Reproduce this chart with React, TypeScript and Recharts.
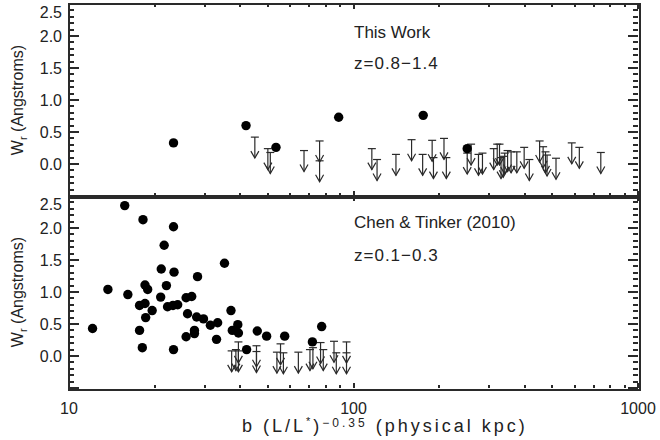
import { Scatter, ScatterChart, XAxis, YAxis } from 'recharts'

type Pt = { x: number; y: number }

// top panel: this work, z=0.8-1.4 (detections)
const workDetB = [23.3, 41.9, 53.4, 88.7, 175.8, 251]
const workDetW = [0.33, 0.6, 0.26, 0.73, 0.76, 0.24]

// top panel upper limits
const workLimB = [
  45, 50, 51, 67, 76, 76, 116, 121, 141, 160, 175, 189, 191, 208, 212, 251, 259, 275, 284, 311,
  320, 326, 330, 336, 340, 348, 358, 375, 398, 415, 451, 464, 473, 479, 515, 585, 622, 740,
]
const workLimW = [
  0.42, 0.24, 0.18, 0.21, 0.36, 0.05, 0.24, 0.07, 0.15, 0.38, 0.15, 0.37, 0.1, 0.4, 0.1, 0.17, 0.31,
  0.15, 0.17, 0.24, 0.31, 0.31, 0.1, 0.12, 0.17, 0.21, 0.19, 0.19, 0.26, 0.07, 0.36, 0.27, 0.19,
  0.14, 0.09, 0.33, 0.26, 0.18,
]

// bottom panel: Chen & Tinker (2010), z=0.1-0.3 (detections)
const ctDetB = [
  12.1, 13.7, 15.7, 16.1, 17.7, 17.7, 18.1, 18.2, 18.5, 18.5, 18.9, 18.6, 19.6, 21.0, 21.1, 21.6,
  22.0, 22.2, 23.2, 23.3, 23.4, 23.3, 24.1, 25.8, 27.0, 26.1, 25.8, 27.6, 27.6, 28.1, 28.3, 29.7,
  31.4, 33.3, 33.0, 35.2, 37.1, 37.5, 39.2, 39.4, 42.1, 45.9, 49.5, 57.3, 71.7, 77.3,
]
const ctDetW = [
  0.43, 1.04, 2.35, 0.96, 0.79, 0.4, 0.13, 2.13, 1.11, 0.82, 1.04, 0.6, 0.71, 0.92, 1.36, 1.73,
  1.1, 0.77, 0.79, 2.02, 1.31, 0.1, 0.8, 0.91, 0.93, 0.66, 0.3, 0.4, 0.35, 0.61, 1.24, 0.58, 0.48,
  0.52, 0.26, 1.45, 0.71, 0.4, 0.49, 0.36, 0.1, 0.39, 0.31, 0.31, 0.22, 0.46,
]

// bottom panel upper limits
const ctLimB = [37.3, 38.6, 39.4, 39.4, 45.6, 45.6, 53.8, 55.4, 56.7, 64, 70.3, 72, 76.6, 78.3, 85.4, 87, 94.5, 94.5]
const ctLimW = [0.08, 0.1, 0.22, 0.08, 0.16, 0.07, 0.06, 0.19, 0.05, 0.06, 0.1, 0.13, 0.21, 0.1, 0.23, 0.05, 0.22, 0.05]

const X_MIN = 10
const X_MAX = 1000
const Y_MIN = -0.5
const Y_MAX = 2.5
const xTicks = [10, 20, 30, 40, 50, 60, 70, 80, 90, 100, 200, 300, 400, 500, 600, 700, 800, 900, 1000]
const xLabels = [10, 100, 1000]
const yLabels = [0, 0.5, 1, 1.5, 2, 2.5]
const yTicks = Array.from({ length: 31 }, (_, i) => Math.round((Y_MIN + i * 0.1) * 10) / 10)

const INK = '#2a2a2a'
const FONT = "'Liberation Sans', Arial, sans-serif"

// page layout of the two plot boxes
const PLOT_L = 69
const PLOT_R = 638
const PANELS = [
  { top: 4, bottom: 196 },
  { top: 196, bottom: 388 },
]

const toPts = (b: number[], w: number[]): Pt[] => b.map((x, i) => ({ x, y: w[i] }))
const isMajorY = (v: number) => Math.abs(v * 2 - Math.round(v * 2)) < 1e-6

function YLabel({ x, y, payload }: any) {
  const v = payload.value
  if (!yLabels.includes(v)) return <g />
  return (
    <text
      x={x - 7}
      y={y + (v === 2.5 ? 8 : 0)}
      dy="0.36em"
      textAnchor="end"
      fontSize={16}
      fontFamily={FONT}
      fill="#222"
    >
      {v.toFixed(1)}
    </text>
  )
}

function XLabel({ x, y, payload, show }: any) {
  const v = payload.value
  if (!show || !xLabels.includes(v)) return <g />
  return (
    <text x={x} y={y + 26} textAnchor="middle" fontSize={16} fontFamily={FONT} fill="#222">
      {v}
    </text>
  )
}

function DetDot({ cx, cy }: any) {
  return <circle cx={cx} cy={cy} r={4.7} fill="#000" />
}

function LimitArrow({ cx, cy }: any) {
  const len = 21
  return (
    <g stroke={INK} strokeWidth={1.2} fill="none">
      <line x1={cx - 4} x2={cx + 4} y1={cy} y2={cy} />
      <line x1={cx} x2={cx} y1={cy} y2={cy + len} />
      <polyline points={`${cx - 4},${cy + len - 7} ${cx},${cy + len} ${cx + 4},${cy + len - 7}`} />
    </g>
  )
}

function Panel({ det, lim, top, height, bottomLabels }: { det: Pt[]; lim: Pt[]; top: number; height: number; bottomLabels: boolean }) {
  return (
    <div style={{ position: 'absolute', left: 0, top }}>
      <ScatterChart width={660} height={height} margin={{ top: 4, right: 22, bottom: bottomLabels ? 0 : 4, left: 0 }}>
        <XAxis
          type="number"
          dataKey="x"
          scale="log"
          domain={[X_MIN, X_MAX]}
          ticks={xTicks}
          interval={0}
          height={bottomLabels ? 52 : 0}
          tickSize={0}
          tickMargin={0}
          tickLine={false}
          axisLine={false}
          tick={(p: any) => <XLabel {...p} show={bottomLabels} />}
        />
        <YAxis
          type="number"
          dataKey="y"
          domain={[Y_MIN, Y_MAX]}
          ticks={yTicks}
          interval={0}
          width={69}
          tickSize={0}
          tickMargin={0}
          tickLine={false}
          axisLine={false}
          tick={YLabel}
        />
        <Scatter data={lim} shape={LimitArrow} isAnimationActive={false} />
        <Scatter data={det} shape={DetDot} isAnimationActive={false} />
      </ScatterChart>
    </div>
  )
}

// IDL-style box with inward major/minor ticks, drawn as plain HTML blocks
function Box({ top, bottom }: { top: number; bottom: number }) {
  const lx0 = Math.log10(X_MIN)
  const lx1 = Math.log10(X_MAX)
  const px = (v: number) => PLOT_L + ((Math.log10(v) - lx0) / (lx1 - lx0)) * (PLOT_R - PLOT_L)
  const py = (v: number) => bottom - ((v - Y_MIN) / (Y_MAX - Y_MIN)) * (bottom - top)
  const mark = (left: number, t: number, w: number, h: number, key: string) => (
    <div key={key} style={{ position: 'absolute', left, top: t, width: w, height: h, background: INK }} />
  )
  const marks: any[] = []
  yTicks.forEach((v) => {
    const len = isMajorY(v) ? 10 : 5
    const y = Math.round(py(v)) - 1
    marks.push(mark(PLOT_L, y, len, 1.5, `l${v}`))
    marks.push(mark(PLOT_R - len, y, len, 1.5, `r${v}`))
  })
  xTicks.forEach((v) => {
    const len = xLabels.includes(v) ? 5 : 3
    const x = Math.round(px(v)) - 1
    marks.push(mark(x, bottom - len, 1.5, len, `b${v}`))
    marks.push(mark(x, top, 1.5, len, `t${v}`))
  })
  return (
    <>
      <div
        style={{
          position: 'absolute',
          left: PLOT_L - 1,
          top: top - 1,
          width: PLOT_R - PLOT_L,
          height: bottom - top,
          border: `2px solid ${INK}`,
          boxSizing: 'content-box',
          pointerEvents: 'none',
        }}
      />
      {marks}
    </>
  )
}

function YTitle({ cy }: { cy: number }) {
  return (
    <text
      x={23}
      y={cy}
      transform={`rotate(-90 23 ${cy})`}
      textAnchor="middle"
      fontSize={16}
      fontFamily={FONT}
      fill="#222"
    >
      W<tspan fontSize={11} dy={4}>r</tspan>
      <tspan dy={-4}> (Angstroms)</tspan>
    </text>
  )
}

export default function App() {
  const textStyle = { fontFamily: FONT, fill: '#222' }
  return (
    <div style={{ position: 'absolute', left: 0, top: 0, width: 660, height: 440, background: '#fff', overflow: 'hidden' }}>
      <Panel det={toPts(workDetB, workDetW)} lim={toPts(workLimB, workLimW)} top={0} height={200} bottomLabels={false} />
      <Panel det={toPts(ctDetB, ctDetW)} lim={toPts(ctLimB, ctLimW)} top={192} height={248} bottomLabels />
      {PANELS.map((p) => (
        <Box key={p.top} top={p.top} bottom={p.bottom} />
      ))}
      <svg width={660} height={440} style={{ position: 'absolute', left: 0, top: 0, pointerEvents: 'none' }}>
        <text x={354} y={38} fontSize={17} {...textStyle}>This Work</text>
        <text x={354} y={69} fontSize={17} letterSpacing={1} {...textStyle}>z=0.8−1.4</text>
        <text x={354} y={228} fontSize={17} {...textStyle}>Chen &amp; Tinker (2010)</text>
        <text x={354} y={261} fontSize={17} letterSpacing={1} {...textStyle}>z=0.1−0.3</text>
        <YTitle cy={100} />
        <YTitle cy={292} />
        <text x={242} y={432} fontSize={18} letterSpacing={3} {...textStyle}>
          b (L/L<tspan fontSize={11} dy={-7}>*</tspan>
          <tspan dy={7}>)</tspan>
          <tspan fontSize={12} dy={-5}>−0.35</tspan>
          <tspan dy={5}> (physical kpc)</tspan>
        </text>
      </svg>
    </div>
  )
}
